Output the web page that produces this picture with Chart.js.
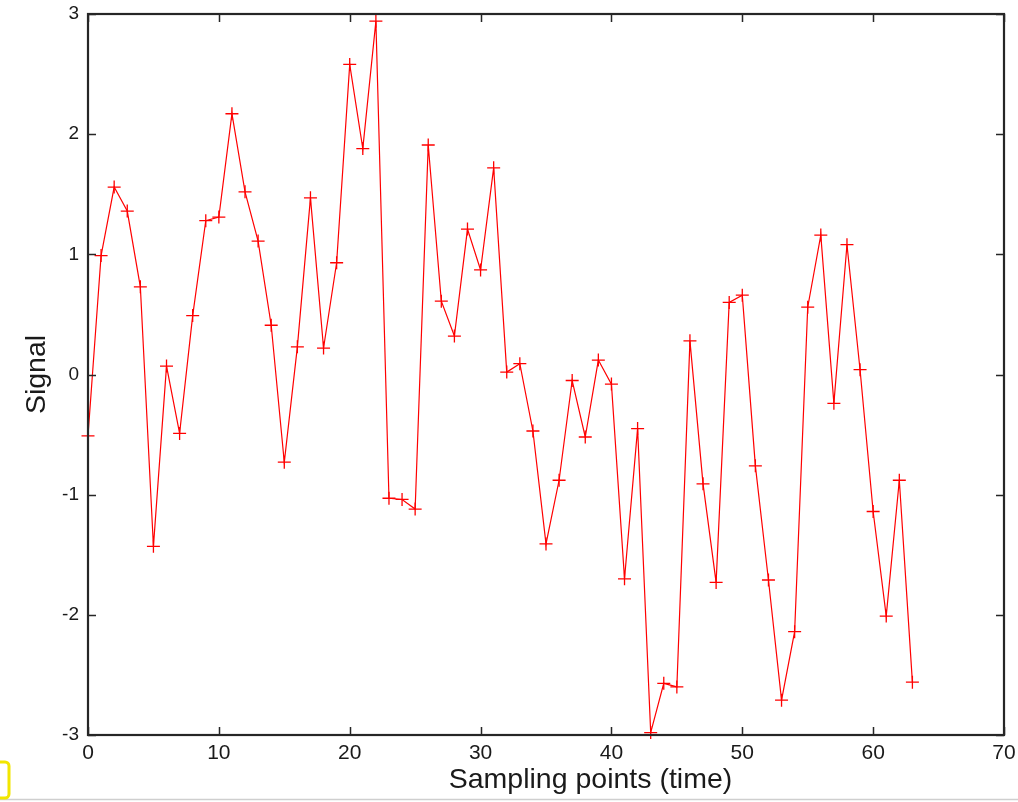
<!DOCTYPE html>
<html>
<head>
<meta charset="utf-8">
<script src="https://cdn.jsdelivr.net/npm/chart.js@4.4.1/dist/chart.umd.min.js"></script>
<style>
  html, body { margin: 0; padding: 0; background: #fff; }
  #signal-chart { display: block; }
</style>
</head>
<body>
<canvas id="signal-chart" width="1018" height="802"></canvas>
<script>
// sample index 0..63 and the measured signal
let sample_idx = [
  0, 1, 2, 3, 4, 5, 6, 7, 8, 9, 10, 11, 12, 13, 14, 15,
  16, 17, 18, 19, 20, 21, 22, 23, 24, 25, 26, 27, 28, 29, 30, 31,
  32, 33, 34, 35, 36, 37, 38, 39, 40, 41, 42, 43, 44, 45, 46, 47,
  48, 49, 50, 51, 52, 53, 54, 55, 56, 57, 58, 59, 60, 61, 62, 63
]
let signal_vals = [
  -0.51, 0.99, 1.56, 1.36, 0.73, -1.43, 0.07, -0.49, 0.49, 1.28, 1.31, 2.17, 1.52, 1.11, 0.41, -0.73,
  0.23, 1.47, 0.22, 0.93, 2.58, 1.88, 2.94, -1.03, -1.04, -1.12, 1.91, 0.61, 0.32, 1.21, 0.87, 1.72,
  0.02, 0.09, -0.47, -1.41, -0.88, -0.05, -0.52, 0.12, -0.08, -1.70, -0.45, -2.98, -2.57, -2.60, 0.28, -0.91,
  -1.73, 0.60, 0.66, -0.76, -1.71, -2.71, -2.14, 0.56, 1.16, -0.24, 1.08, 0.04, -1.14, -2.01, -0.88, -2.56
]
let x_ticks = [0, 10, 20, 30, 40, 50, 60, 70]
let y_ticks = [-3, -2, -1, 0, 1, 2, 3]
let x_title = 'Sampling points (time)'
let x_title_at = 38.4   // the label sits right of the axis middle in the original

const points = sample_idx.map((x, i) => ({ x: x, y: signal_vals[i] }))
const FONT = "'Liberation Sans', Arial, Helvetica, sans-serif"

// box frame with inward ticks on all four sides, matlab style
const frameTicks = {
  id: 'frameTicks',
  afterDraw(chart) {
    const { ctx, chartArea: a, scales } = chart
    const len = 8
    ctx.save()
    ctx.strokeStyle = '#262626'
    ctx.lineWidth = 1.5
    ctx.beginPath()
    x_ticks.forEach(v => {
      const px = Math.round(scales.x.getPixelForValue(v)) + 0.5
      ctx.moveTo(px, a.bottom); ctx.lineTo(px, a.bottom - len)
      ctx.moveTo(px, a.top); ctx.lineTo(px, a.top + len)
    })
    y_ticks.forEach(v => {
      const py = Math.round(scales.y.getPixelForValue(v)) + 0.5
      ctx.moveTo(a.left, py); ctx.lineTo(a.left + len, py)
      ctx.moveTo(a.right, py); ctx.lineTo(a.right - len, py)
    })
    ctx.stroke()
    ctx.lineWidth = 2.2
    ctx.strokeRect(a.left, a.top, a.right - a.left, a.bottom - a.top)

    // x axis title
    ctx.fillStyle = '#1a1a1a'
    ctx.font = '28.5px ' + FONT
    ctx.textAlign = 'center'
    ctx.textBaseline = 'middle'
    ctx.fillText(x_title, scales.x.getPixelForValue(x_title_at), chart.height - 22)

    // bits of the screenshot around the figure
    ctx.strokeStyle = '#cfcfcf'
    ctx.lineWidth = 1.5
    ctx.beginPath()
    ctx.moveTo(0, 799.5); ctx.lineTo(chart.width, 799.5)
    ctx.stroke()
    ctx.strokeStyle = '#f2e600'
    ctx.lineWidth = 3
    ctx.beginPath()
    ctx.roundRect(-6, 762, 15, 36, 4)
    ctx.stroke()
    ctx.restore()
  }
}

const ctx = document.getElementById('signal-chart').getContext('2d')

new Chart(ctx, {
  type: 'line',
  data: {
    datasets: [{
      label: 'signal',
      data: points,
      borderColor: '#ff0000',
      borderWidth: 1.2,
      tension: 0,
      fill: false,
      pointStyle: 'cross',
      pointRadius: 6.5,
      pointBorderColor: '#ff0000',
      pointBorderWidth: 1.3,
      pointHoverRadius: 6.5,
      clip: false
    }]
  },
  options: {
    responsive: false,
    animation: false,
    events: [],
    layout: { padding: { left: 0, top: 14, right: 14, bottom: 0 } },
    plugins: {
      legend: { display: false },
      tooltip: { enabled: false }
    },
    scales: {
      x: {
        type: 'linear',
        min: 0,
        max: 70,
        afterBuildTicks: s => { s.ticks = x_ticks.map(v => ({ value: v })) },
        afterFit: s => { s.height = 67; s.paddingLeft = 0; s.paddingRight = 0 },
        grid: { display: false, drawTicks: false },
        border: { display: false },
        ticks: {
          padding: 6,
          color: '#1a1a1a',
          font: { family: FONT, size: 21 }
        }
      },
      y: {
        min: -3,
        max: 3,
        afterBuildTicks: s => { s.ticks = y_ticks.map(v => ({ value: v })) },
        afterFit: s => { s.width = 88; s.paddingTop = 0; s.paddingBottom = 0 },
        grid: { display: false, drawTicks: false },
        border: { display: false },
        ticks: {
          padding: 9,
          color: '#1a1a1a',
          font: { family: FONT, size: 19 }
        },
        title: {
          display: true,
          text: 'Signal',
          color: '#1a1a1a',
          font: { family: FONT, size: 28.5 },
          padding: { top: 20, bottom: 0 }
        }
      }
    }
  },
  plugins: [frameTicks]
})
</script>
</body>
</html>
